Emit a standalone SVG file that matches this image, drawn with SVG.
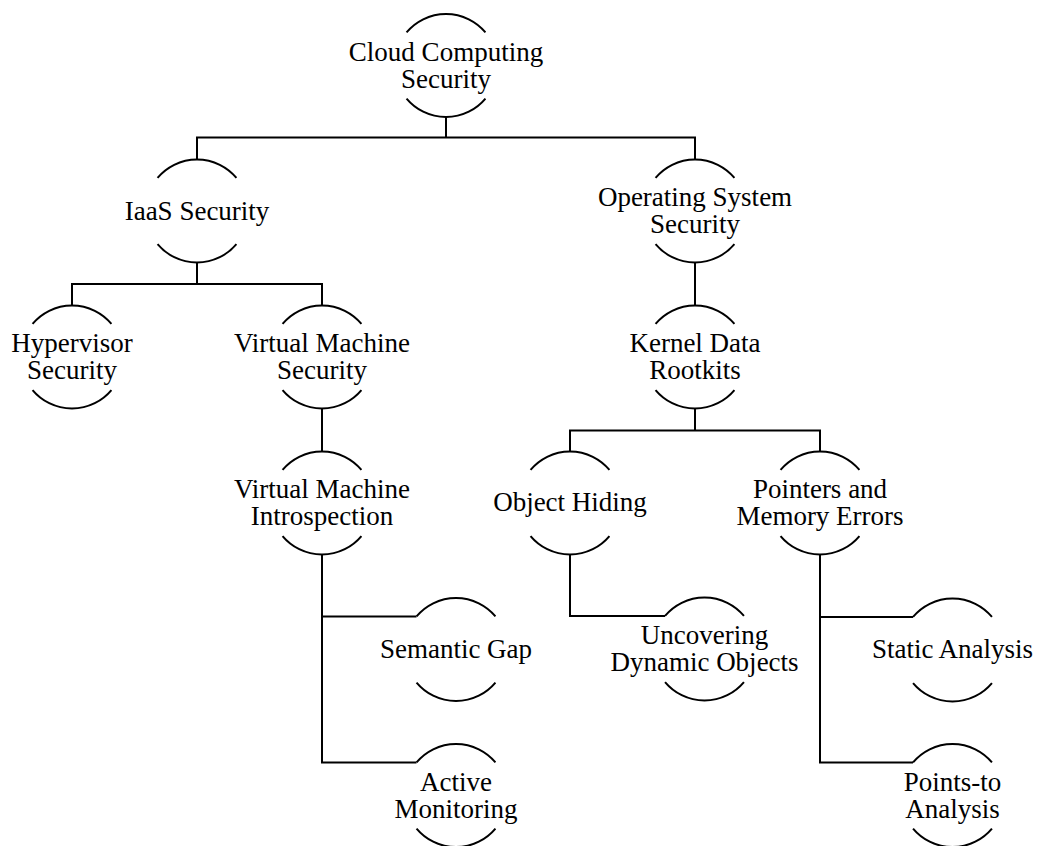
<svg xmlns="http://www.w3.org/2000/svg" xmlns:xlink="http://www.w3.org/1999/xlink" width="1038" height="846" viewBox="0 0 1038 846">
  <style>
    .ln { fill: none; stroke: #000; stroke-width: 2; stroke-linejoin: miter; }
    .ring { fill: none; stroke: #000; stroke-width: 2; }
    text { font-family: "Liberation Serif", "Times New Roman", serif; font-size: 27px; fill: #000; text-anchor: middle; }
  </style>
  <defs>
    <!-- node outline: upper and lower arc of a circle, open at the sides -->
    <path id="ring" d="M-39.45,-33.1 A51.5,51.5 0 0 1 39.45,-33.1 M-39.45,33.1 A51.5,51.5 0 0 0 39.45,33.1"/>
  </defs>
  <rect width="1038" height="846" fill="#fff"/>

  <g id="connectors">
    <path class="ln" d="M446,117 V137.5"/>
    <path class="ln" d="M197,159.5 V137.5 H695 V159.5"/>
    <path class="ln" d="M197,262.5 V284"/>
    <path class="ln" d="M72,305.5 V284 H322 V305.5"/>
    <path class="ln" d="M695,262.5 V305.5"/>
    <path class="ln" d="M322,408.5 V451.5"/>
    <path class="ln" d="M695,408.5 V430.5"/>
    <path class="ln" d="M570,451.5 V430.5 H820 V451.5"/>
    <path class="ln" d="M322,554.5 V762.4 H416.5"/>
    <path class="ln" d="M322,616.4 H416.5"/>
    <path class="ln" d="M570,554.5 V616 H665"/>
    <path class="ln" d="M820,554.5 V762.4 H913"/>
    <path class="ln" d="M820,616.9 H913"/>
  </g>

  <g id="n-cloud" transform="translate(446,65.5)">
    <use xlink:href="#ring" class="ring"/>
    <text y="-5">Cloud Computing</text>
    <text y="22">Security</text>
  </g>
  <g id="n-iaas" transform="translate(197,211)">
    <use xlink:href="#ring" class="ring"/>
    <text y="9">IaaS Security</text>
  </g>
  <g id="n-os" transform="translate(695,211)">
    <use xlink:href="#ring" class="ring"/>
    <text y="-5">Operating System</text>
    <text y="22">Security</text>
  </g>
  <g id="n-hypervisor" transform="translate(72,357)">
    <use xlink:href="#ring" class="ring"/>
    <text y="-5">Hypervisor</text>
    <text y="22">Security</text>
  </g>
  <g id="n-vmsec" transform="translate(322,357)">
    <use xlink:href="#ring" class="ring"/>
    <text y="-5">Virtual Machine</text>
    <text y="22">Security</text>
  </g>
  <g id="n-kernel" transform="translate(695,357)">
    <use xlink:href="#ring" class="ring"/>
    <text y="-5">Kernel Data</text>
    <text y="22">Rootkits</text>
  </g>
  <g id="n-vmi" transform="translate(322,503)">
    <use xlink:href="#ring" class="ring"/>
    <text y="-5">Virtual Machine</text>
    <text y="22">Introspection</text>
  </g>
  <g id="n-hiding" transform="translate(570,503)">
    <use xlink:href="#ring" class="ring"/>
    <text y="8">Object Hiding</text>
  </g>
  <g id="n-pointers" transform="translate(820,503)">
    <use xlink:href="#ring" class="ring"/>
    <text y="-5">Pointers and</text>
    <text y="22">Memory Errors</text>
  </g>
  <g id="n-gap" transform="translate(456,649.5)">
    <use xlink:href="#ring" class="ring"/>
    <text y="8">Semantic Gap</text>
  </g>
  <g id="n-uncover" transform="translate(704.5,649)">
    <use xlink:href="#ring" class="ring"/>
    <text y="-5">Uncovering</text>
    <text y="22">Dynamic Objects</text>
  </g>
  <g id="n-static" transform="translate(952.5,650)">
    <use xlink:href="#ring" class="ring"/>
    <text y="8">Static Analysis</text>
  </g>
  <g id="n-active" transform="translate(456,795.5)">
    <use xlink:href="#ring" class="ring"/>
    <text y="-5">Active</text>
    <text y="22">Monitoring</text>
  </g>
  <g id="n-pointsto" transform="translate(952.5,795.5)">
    <use xlink:href="#ring" class="ring"/>
    <text y="-5">Points-to</text>
    <text y="22">Analysis</text>
  </g>
</svg>
